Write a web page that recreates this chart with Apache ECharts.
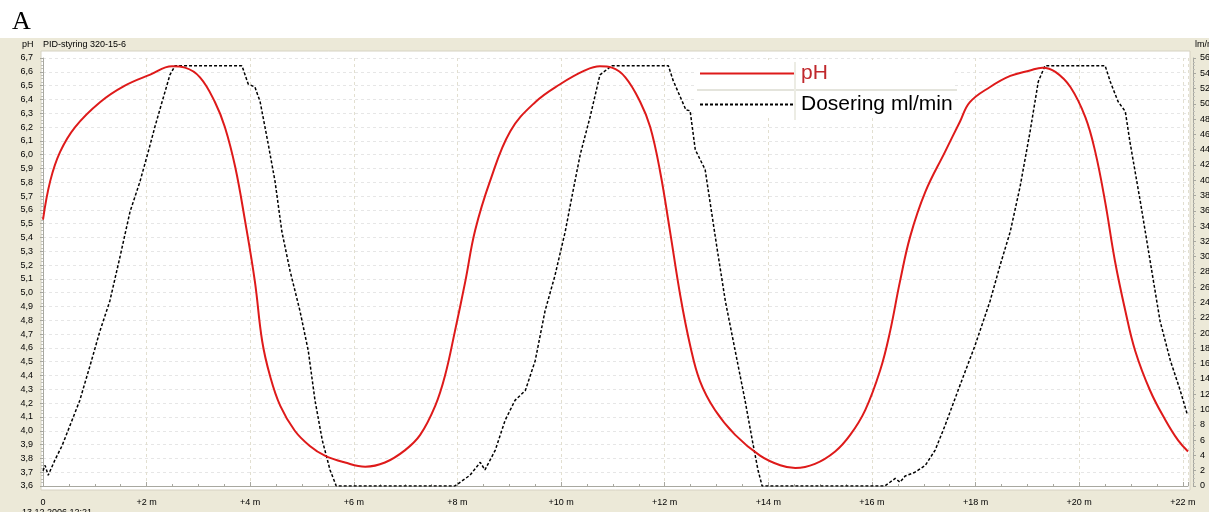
<!DOCTYPE html>
<html>
<head>
<meta charset="utf-8">
<script src="https://cdn.jsdelivr.net/npm/echarts@6/dist/echarts.min.js"></script>
<style>
  html, body { margin: 0; padding: 0; background: #fff; }
  #chart { width: 1209px; height: 512px; }
</style>
</head>
<body>
<div id="chart"></div>
<script>
// pH curve: time in minutes, pH value
const phTime = [0, 0.14, 0.33, 0.62, 1.1, 1.58, 2.07, 2.49, 2.74, 3.03, 3.32, 3.51, 3.71, 3.9, 4.09, 4.23, 4.38, 4.58, 4.86, 5.15, 5.44, 5.83, 6.22, 6.6, 6.99, 7.28, 7.57, 7.76, 7.95, 8.15, 8.34, 8.63, 9.02, 9.5, 9.98, 10.46, 10.75, 10.98, 11.24, 11.53, 11.72, 11.91, 12.1, 12.3, 12.49, 12.68, 12.97, 13.36, 13.84, 14.23, 14.52, 14.9, 15.29, 15.58, 15.87, 16.16, 16.35, 16.54, 16.74, 17.03, 17.41, 17.7, 17.89, 18.28, 18.67, 19.05, 19.29, 19.54, 19.83, 20.12, 20.31, 20.5, 20.69, 20.89, 21.08, 21.37, 21.66, 21.91, 22.1];
const phValue = [5.53, 5.81, 6.02, 6.2, 6.38, 6.5, 6.58, 6.64, 6.63, 6.56, 6.38, 6.2, 5.91, 5.52, 5.08, 4.65, 4.4, 4.18, 4.0, 3.89, 3.82, 3.77, 3.74, 3.77, 3.86, 3.97, 4.18, 4.4, 4.72, 5.08, 5.45, 5.81, 6.17, 6.38, 6.51, 6.61, 6.64, 6.63, 6.56, 6.38, 6.2, 5.88, 5.45, 4.98, 4.62, 4.36, 4.15, 3.97, 3.82, 3.75, 3.73, 3.76, 3.85, 3.97, 4.15, 4.44, 4.72, 5.08, 5.41, 5.73, 6.02, 6.24, 6.38, 6.49, 6.57, 6.61, 6.63, 6.6, 6.49, 6.27, 6.02, 5.66, 5.23, 4.87, 4.58, 4.29, 4.08, 3.93, 3.85];

// dosing curve: time in minutes, ml/min
const doseTime = [0, 0.04, 0.1, 0.23, 0.37, 0.52, 0.71, 0.91, 1.1, 1.29, 1.49, 1.68, 1.87, 2.03, 2.16, 2.3, 2.45, 2.55, 3.84, 3.96, 4.09, 4.19, 4.34, 4.48, 4.61, 4.77, 4.96, 5.12, 5.25, 5.39, 5.54, 5.66, 7.95, 8.24, 8.44, 8.53, 8.73, 8.92, 9.11, 9.31, 9.5, 9.69, 9.88, 10.08, 10.21, 10.37, 10.56, 10.75, 10.98, 12.07, 12.16, 12.41, 12.49, 12.59, 12.78, 13.01, 13.17, 13.36, 13.55, 13.69, 13.8, 13.88, 16.25, 16.45, 16.54, 16.64, 16.83, 17.03, 17.22, 17.41, 17.7, 17.99, 18.28, 18.47, 18.67, 18.86, 19.05, 19.21, 19.34, 20.5, 20.6, 20.75, 20.89, 20.98, 21.18, 21.37, 21.56, 21.76, 21.95, 22.08];
const doseValue = [2.0, 2.7, 1.4, 3.4, 5.3, 7.9, 11.2, 15.8, 20.3, 24.2, 30.1, 35.9, 39.8, 43.7, 47.0, 50.3, 53.8, 55.0, 55.0, 52.6, 52.2, 50.3, 45.0, 39.8, 33.3, 28.1, 22.9, 17.7, 11.2, 6.0, 2.1, 0, 0, 1.4, 3.1, 2.1, 4.7, 8.6, 11.2, 12.5, 16.4, 22.9, 27.5, 33.3, 37.9, 43.4, 48.3, 53.8, 55.0, 55.0, 53.1, 49.2, 49.1, 44.0, 41.4, 31.1, 24.2, 17.7, 11.2, 6.0, 2.1, 0, 0, 1.0, 0.5, 1.3, 1.8, 2.7, 4.7, 7.9, 13.2, 18.4, 24.2, 28.8, 33.3, 39.2, 46.3, 52.9, 55.0, 55.0, 52.9, 50.3, 49.0, 45.0, 37.2, 29.4, 21.6, 16.4, 12.5, 9.5];

const xLabels = ['0', '+2 m', '+4 m', '+6 m', '+8 m', '+10 m', '+12 m', '+14 m', '+16 m', '+18 m', '+20 m', '+22 m'];

const phData = phTime.map((t, i) => [t, phValue[i]]);
const doseData = doseTime.map((t, i) => [t, doseValue[i]]);

const font = 'Liberation Sans';
const chart = echarts.init(document.getElementById('chart'));
chart.setOption({
  backgroundColor: '#ffffff',
  animation: false,
  textStyle: { fontFamily: font },
  graphic: [
    { type: 'rect', z: -10, shape: { x: 0, y: 38, width: 1209, height: 474 }, style: { fill: '#ECE9D8' } },
    { type: 'rect', z: -9, shape: { x: 41, y: 51, width: 1149, height: 439 }, style: { fill: '#ffffff', stroke: '#d6d2c2', lineWidth: 1 } },
    { type: 'text', left: 12, top: 9, style: { text: 'A', font: '26px "Liberation Serif"', fill: '#000' } },
    { type: 'text', left: 22, top: 40, style: { text: 'pH', font: '9px ' + font, fill: '#000' } },
    { type: 'text', left: 43, top: 40, style: { text: 'PID-styring 320-15-6', font: '9px ' + font, fill: '#000' } },
    { type: 'text', left: 1195, top: 40, style: { text: 'lm/min', font: '9px ' + font, fill: '#000' } },
    { type: 'text', left: 22, top: 508, style: { text: '13.12.2006 12:21', font: '9px ' + font, fill: '#000' } },
    { type: 'line', z: 10, shape: { x1: 697, y1: 90, x2: 957, y2: 90 }, style: { stroke: '#e4e4dc', lineWidth: 2 } },
    { type: 'line', z: 10, shape: { x1: 795, y1: 62, x2: 795, y2: 120 }, style: { stroke: '#ecece4', lineWidth: 2 } }
  ],
  legend: {
    orient: 'vertical',
    left: 697,
    top: 60,
    padding: [3, 2, 3, 2],
    itemGap: 10,
    itemWidth: 94,
    itemHeight: 22,
    backgroundColor: '#ffffff',
    itemStyle: { opacity: 0 },
    data: [
      { name: 'pH', textStyle: { color: '#c0282c' } },
      { name: 'Dosering ml/min', textStyle: { color: '#000' } }
    ],
    textStyle: { fontSize: 21, fontFamily: font, padding: [0, 0, 0, 2] }
  },
  grid: { left: 43, right: 21, top: 58, bottom: 26, show: false, containLabel: false, outerBoundsMode: 'none' },
  xAxis: {
    type: 'value',
    min: 0,
    max: 22.1,
    interval: 2,
    offset: 6,
    axisLine: { show: true, lineStyle: { color: '#a8a8a0' } },
    axisTick: { show: true, inside: true, length: 4, lineStyle: { color: '#a8a8a0' } },
    minorTick: { show: true, splitNumber: 4, length: 2, lineStyle: { color: '#a8a8a0' } },
    axisLabel: { fontSize: 9, color: '#000', margin: 6, showMaxLabel: false,
      formatter: v => xLabels[Math.round(v / 2)] },
    splitLine: { show: true, lineStyle: { color: '#e2dfd0', type: [3, 3] } }
  },
  yAxis: [
    {
      type: 'value',
      min: 3.6,
      max: 6.7,
      interval: 0.1,
      offset: 6,
      axisLine: { show: true, lineStyle: { color: '#a8a8a0' } },
      axisTick: { show: true, length: 3, lineStyle: { color: '#a8a8a0' } },
      minorTick: { show: true, splitNumber: 4, length: 2, lineStyle: { color: '#c0c0b8' } },
      axisLabel: { fontSize: 9, color: '#000', margin: 4,
        formatter: v => v.toFixed(1).replace('.', ',') },
      splitLine: { show: true, lineStyle: { color: '#e6e6e6', type: [3, 3] } }
    },
    {
      type: 'value',
      position: 'right',
      min: 0,
      max: 56,
      interval: 2,
      offset: 5,
      axisLine: { show: true, lineStyle: { color: '#a8a8a0' } },
      axisTick: { show: true, length: 3, lineStyle: { color: '#a8a8a0' } },
      minorTick: { show: true, splitNumber: 4, length: 2, lineStyle: { color: '#c0c0b8' } },
      axisLabel: { fontSize: 9, color: '#000', margin: 7 },
      splitLine: { show: false }
    }
  ],
  series: [
    {
      name: 'pH',
      type: 'line',
      yAxisIndex: 0,
      smooth: 0.4,
      symbol: 'none',
      data: phData,
      lineStyle: { color: '#de1a1a', width: 2 },
      itemStyle: { color: '#c0282c' },
      z: 3
    },
    {
      name: 'Dosering ml/min',
      type: 'line',
      yAxisIndex: 1,
      symbol: 'none',
      data: doseData,
      lineStyle: { color: '#000', width: 1.5, type: [3, 2] },
      itemStyle: { color: '#000' },
      z: 2
    }
  ]
});
</script>
</body>
</html>
